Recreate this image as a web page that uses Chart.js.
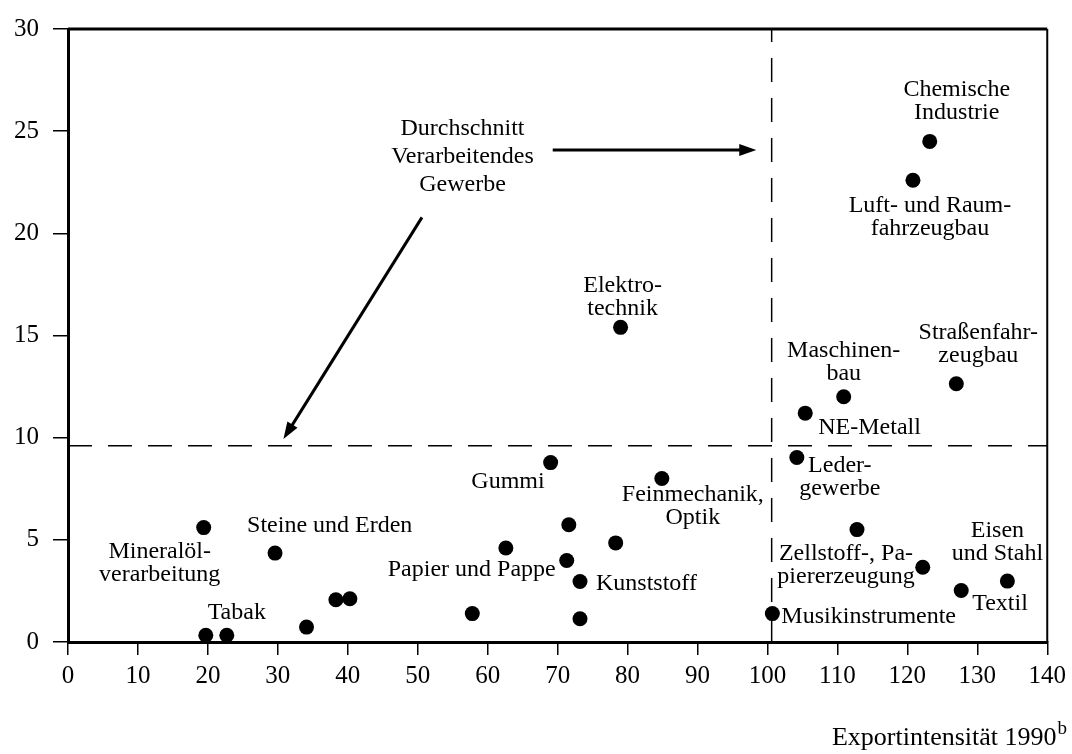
<!DOCTYPE html>
<html>
<head>
<meta charset="utf-8">
<script src="https://cdn.jsdelivr.net/npm/chart.js@4.4.0/dist/chart.umd.min.js"></script>
<style>
  html, body { margin: 0; padding: 0; background: #fff; }
  #wrap { width: 1072px; height: 754px; }
</style>
</head>
<body>
<div id="wrap"><canvas id="chart" width="1072" height="754"></canvas></div>
<script>
// Werte
const branchen = [
  "Mineralöl-\nverarbeitung", "Steine und Erden", "", "Tabak", "", "", "", "", "",
  "Gummi", "", "Papier und Pappe", "Kunststoff", "", "", "Feinmechanik,\nOptik",
  "Elektro-\ntechnik", "Musikinstrumente", "Leder-\ngewerbe", "NE-Metall",
  "Maschinen-\nbau", "Zellstoff-, Pa-\npiererzeugung", "", "Luft- und Raum-\nfahrzeugbau",
  "Chemische\nIndustrie", "Straßenfahr-\nzeugbau", "Textil", "Eisen\nund Stahl"
]
const exportIntensitaet = [
  19.4, 29.6, 19.7, 22.7, 34.1, 38.3, 40.3, 57.8, 62.6,
  69.0, 71.6, 71.3, 73.2, 73.2, 78.3, 84.9,
  79.0, 100.7, 104.2, 105.4,
  110.9, 112.8, 122.2, 120.8,
  123.2, 127.0, 127.7, 134.3
]
const yWerte = [
  5.6, 4.35, 0.33, 0.33, 0.73, 2.07, 2.12, 1.39, 4.6,
  8.78, 5.74, 3.99, 2.96, 1.14, 4.85, 8.0,
  15.4, 1.39, 9.03, 11.2,
  12.0, 5.5, 3.66, 22.6,
  24.5, 12.64, 2.52, 2.98
]
const xTickWerte = [0, 10, 20, 30, 40, 50, 60, 70, 80, 90, 100, 110, 120, 130, 140]
const yTickWerte = [0, 5, 10, 15, 20, 25, 30]
// Durchschnitt Verarbeitendes Gewerbe
const avgExport = 100.6
const avgY = 9.6

const xTitel = "Exportintensität 1990"
const xTitelHoch = "b"
const anmerkung = "Durchschnitt\nVerarbeitendes\nGewerbe"
const anmerkungPos = [56.4, 25.1]
const pfeilRechts = [[69.3, 24.08], [98.4, 24.08]]
const pfeilLinks = [[50.6, 20.78], [30.8, 9.93]]

// Lage der Beschriftung relativ zum Punkt: [dx, dy, Ausrichtung]
const labelLage = {
  0: [-44, 24, "center"], 1: [-28, -27, "left"], 3: [10, -23, "center"],
  9: [-6, 19, "right"], 11: [-11, 9, "right"], 12: [16, 2, "left"],
  15: [31, 16, "center"], 16: [2, -42, "center"], 17: [9, 3, "left"],
  18: [43, 8, "center"], 19: [13, 15, "left"], 20: [0, -46, "center"],
  21: [-11, 24, "center"], 23: [17, 25, "center"], 24: [27, -52, "center"],
  25: [22, -51, "center"], 26: [11, 13, "left"], 27: [-10, -50, "center"]
}

const SERIF = "'Liberation Serif', 'Times New Roman', serif"

function pfeil(ctx, x1, y1, x2, y2) {
  const a = Math.atan2(y2 - y1, x2 - x1)
  ctx.beginPath()
  ctx.moveTo(x1, y1)
  ctx.lineTo(x2 - 10 * Math.cos(a), y2 - 10 * Math.sin(a))
  ctx.stroke()
  ctx.beginPath()
  ctx.moveTo(x2, y2)
  ctx.lineTo(x2 - 17 * Math.cos(a) + 6 * Math.sin(a), y2 - 17 * Math.sin(a) - 6 * Math.cos(a))
  ctx.lineTo(x2 - 17 * Math.cos(a) - 6 * Math.sin(a), y2 - 17 * Math.sin(a) + 6 * Math.cos(a))
  ctx.closePath()
  ctx.fill()
}

const beschriftung = {
  id: "beschriftung",
  afterDraw(chart) {
    const ctx = chart.ctx
    const xs = chart.scales.x, ys = chart.scales.y
    const area = chart.chartArea
    ctx.save()
    ctx.strokeStyle = "#000"
    ctx.fillStyle = "#000"
    // Rahmen oben und rechts
    ctx.lineWidth = 3
    ctx.beginPath(); ctx.moveTo(area.left, area.top); ctx.lineTo(area.right, area.top); ctx.stroke()
    ctx.lineWidth = 2
    ctx.beginPath(); ctx.moveTo(area.right, area.top); ctx.lineTo(area.right, area.bottom); ctx.stroke()

    // Punktbeschriftungen
    ctx.font = "24px " + SERIF
    ctx.textBaseline = "middle"
    branchen.forEach((txt, i) => {
      if (!txt) return
      const lage = labelLage[i] || [0, -20, "center"]
      const px = xs.getPixelForValue(exportIntensitaet[i])
      const py = ys.getPixelForValue(yWerte[i])
      ctx.textAlign = lage[2]
      txt.split("\n").forEach((z, j) => ctx.fillText(z, px + lage[0], py + lage[1] + j * 23))
    })

    // Anmerkung mit Pfeilen
    ctx.textAlign = "center"
    const ax = xs.getPixelForValue(anmerkungPos[0]), ay = ys.getPixelForValue(anmerkungPos[1])
    anmerkung.split("\n").forEach((z, j) => ctx.fillText(z, ax, ay + j * 28))
    ctx.lineWidth = 3
    ;[pfeilRechts, pfeilLinks].forEach(p => {
      pfeil(ctx, xs.getPixelForValue(p[0][0]), ys.getPixelForValue(p[0][1]),
                 xs.getPixelForValue(p[1][0]), ys.getPixelForValue(p[1][1]))
    })

    // Achsentitel unten rechts
    ctx.textBaseline = "alphabetic"
    ctx.textAlign = "right"
    ctx.font = "19px " + SERIF
    const bw = ctx.measureText(xTitelHoch).width
    ctx.fillText(xTitelHoch, 1067, 734)
    ctx.font = "26px " + SERIF
    ctx.fillText(xTitel, 1067 - bw - 1, 745)
    ctx.restore()
  }
}

const ctx = document.getElementById("chart")
new Chart(ctx, {
  type: "scatter",
  data: {
    datasets: [
      {
        data: exportIntensitaet.map((x, i) => ({ x: x, y: yWerte[i] })),
        pointRadius: 7.5,
        pointBackgroundColor: "#000",
        pointBorderWidth: 0
      },
      {
        type: "line",
        data: [{ x: xTickWerte[0], y: avgY }, { x: xTickWerte[xTickWerte.length - 1], y: avgY }],
        borderColor: "#000",
        borderWidth: 1.5,
        borderDash: [24, 16],
        pointRadius: 0
      },
      {
        type: "line",
        data: [{ x: avgExport, y: yTickWerte[0] }, { x: avgExport, y: yTickWerte[yTickWerte.length - 1] }],
        borderColor: "#000",
        borderWidth: 1.5,
        borderDash: [24, 16],
        pointRadius: 0
      }
    ]
  },
  options: {
    responsive: false,
    animation: false,
    devicePixelRatio: 1,
    layout: { padding: { top: 26, right: 24, bottom: 0, left: 0 } },
    plugins: { legend: { display: false }, tooltip: { enabled: false } },
    scales: {
      x: {
        type: "linear",
        min: 0,
        max: 140,
        afterBuildTicks: s => { s.ticks = xTickWerte.map(v => ({ value: v })) },
        afterFit: s => { s.height = 112 },
        ticks: { color: "#000", font: { family: SERIF, size: 25 }, padding: 6, maxRotation: 0 },
        grid: { drawOnChartArea: false, drawTicks: true, tickLength: 13, color: "#000", lineWidth: 1.5 },
        border: { display: true, color: "#000", width: 3 }
      },
      y: {
        type: "linear",
        min: 0,
        max: 30,
        afterBuildTicks: s => { s.ticks = yTickWerte.map(v => ({ value: v })) },
        afterFit: s => { s.width = 68 },
        ticks: { color: "#000", font: { family: SERIF, size: 25 }, padding: 14 },
        grid: { drawOnChartArea: false, drawTicks: true, tickLength: 15, color: "#000", lineWidth: 1.5 },
        border: { display: true, color: "#000", width: 3 }
      }
    }
  },
  plugins: [beschriftung]
})
</script>
</body>
</html>
